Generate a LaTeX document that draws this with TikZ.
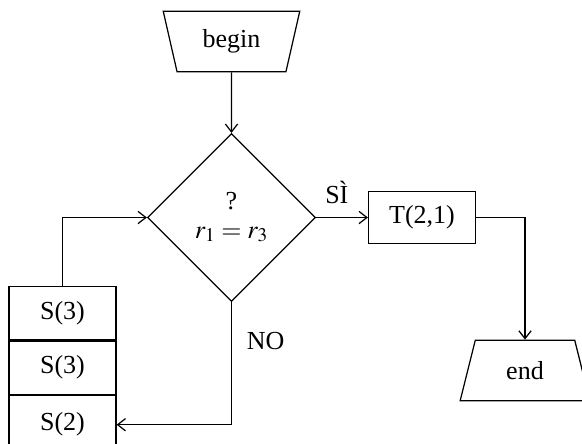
\documentclass[tikz,border=0pt]{standalone}
\usepackage{mathptmx}
\usepackage{fontspec}
\setmainfont{Liberation Serif}
\usetikzlibrary{shapes.geometric, arrows.meta, positioning}

\tikzstyle{startbox} = [trapezium, 
trapezium stretches=true, 
trapezium left angle=104, 
trapezium right angle=104, 
minimum width=2.74cm, 
minimum height=1.21cm, text centered, 
draw=black]
\tikzstyle{endbox} = [startbox, 
trapezium left angle=76, 
trapezium right angle=76, 
minimum width=2.6cm]
\tikzstyle{process} = [rectangle, 
minimum width=2.14cm, 
minimum height=1.04cm, 
text centered, 
draw=black]
\tikzstyle{cell} = [process, minimum height=1.07cm]
\tikzstyle{decision} = [diamond, 
minimum width=3.36cm, 
minimum height=3.36cm, 
aspect=1, inner sep=0pt, 
align=center, 
draw=black]
\tikzstyle{arrow} = [->,>={Straight Barb[length=4.5pt,width=7pt]}]

\begin{document}
\begin{tikzpicture}[node distance=2cm, line width=0.7pt,
    font=\fontsize{14.8}{18}\selectfont]
    \useasboundingbox (-4.63,0.83) rectangle (7.01,-8.03);

    \node (begin) [startbox] {begin};

    \node (test) [decision, below of=begin, node distance=3.52cm] {?\\[-2pt]$r_1 = r_3$};

    \node (t21) [process, right of=test, node distance=3.81cm] {T(2,1)};

    \node (finish) [endbox, below of=t21, node distance=3.06cm, xshift=2.06cm] {end};

    % stack of S cells on the left
    \node (s3a) [cell, left of=test, node distance=3.38cm, yshift=-1.91cm] {S(3)};
    \node (s3b) [cell, below=0pt of s3a] {S(3)};
    \node (s2) [cell, below=0pt of s3b, minimum height=1.16cm] {S(2)};

    \draw [arrow] (begin) -- (test);
    \draw [arrow] (test) -- node (si) [above, pos=0.4, yshift=4pt] {SÌ} (t21);
    \draw [arrow] (t21.east) -| (finish);
    \draw [arrow] (test.south) |- node (no) [right, pos=0.16, xshift=5pt] {NO} (s2.east);
    \draw [arrow] (s3a.north) |- (test.west);
\end{tikzpicture}
\end{document}
